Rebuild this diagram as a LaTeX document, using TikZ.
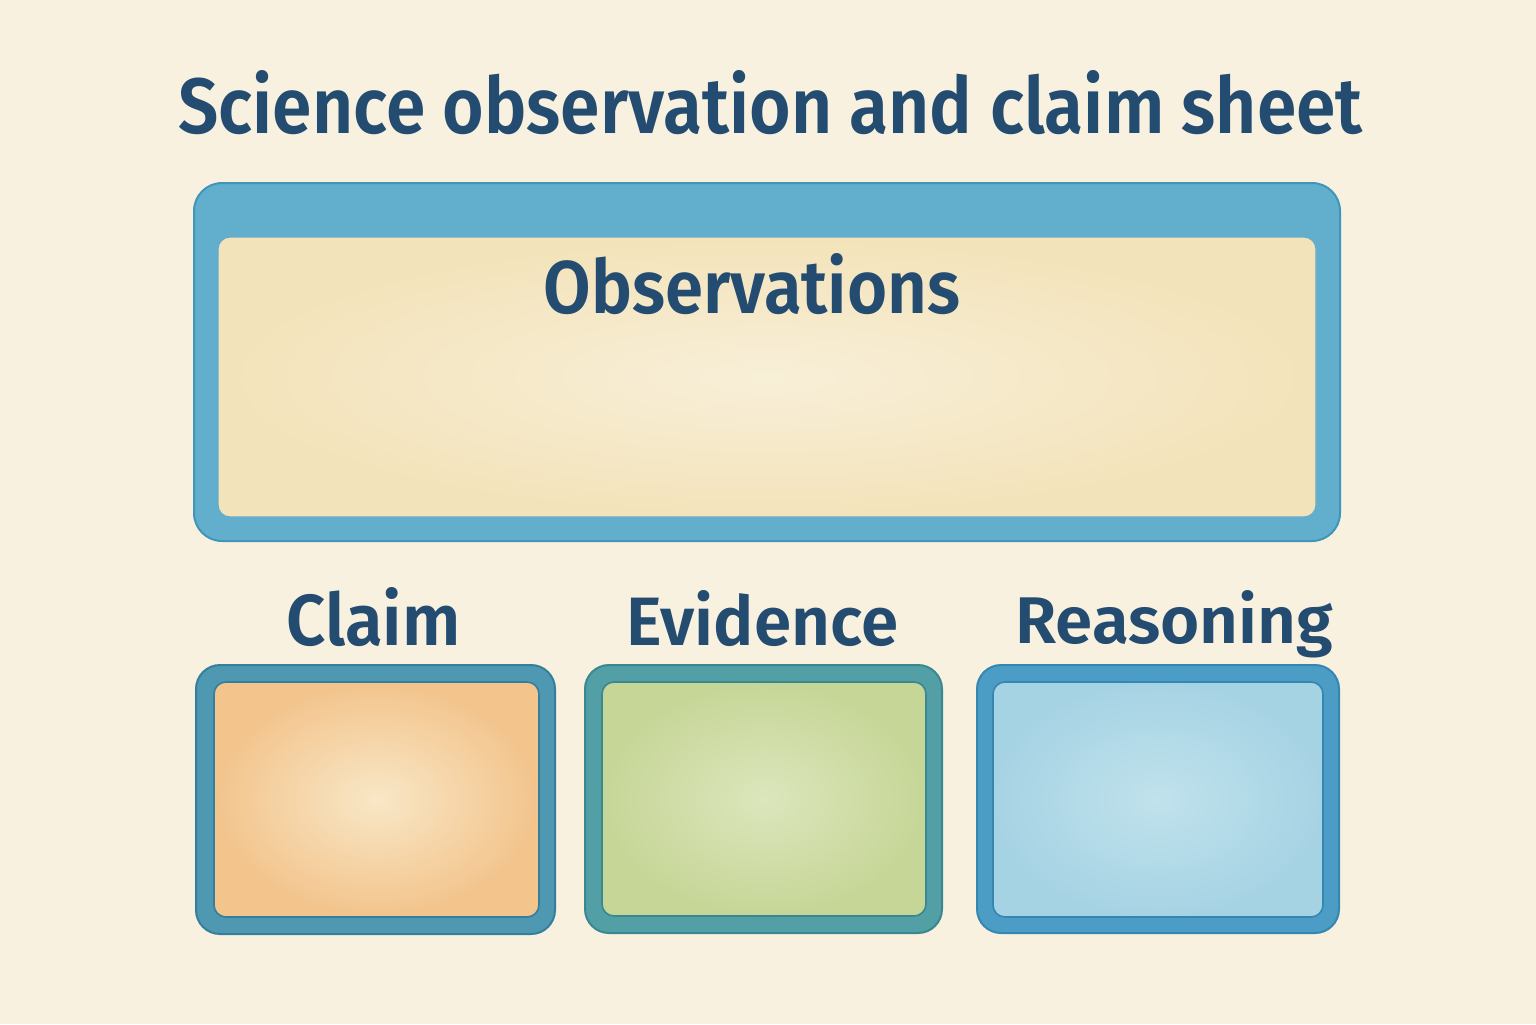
\documentclass[tikz,border=0pt]{standalone}
\usepackage{fontspec}
\setmainfont{Fira Sans}
\newfontfamily\lblfont{Fira Sans SemiBold}
\usepackage{graphicx}
\definecolor{paper}{HTML}{F8F1E0}
\definecolor{ink}{HTML}{234C70}
\definecolor{bigborder}{HTML}{62AFCD}
\definecolor{bigedge}{HTML}{4096BA}
\definecolor{bigout}{HTML}{F3E3BA}
\definecolor{bigin}{HTML}{F8EFD8}
\definecolor{claimborder}{HTML}{4E98B2}
\definecolor{claimedge}{HTML}{367F9C}
\definecolor{claimout}{HTML}{F3C48C}
\definecolor{claimin}{HTML}{F8E7C6}
\definecolor{evborder}{HTML}{52A0A6}
\definecolor{evedge}{HTML}{3A8790}
\definecolor{evout}{HTML}{C6D697}
\definecolor{evin}{HTML}{DCE6BC}
\definecolor{reborder}{HTML}{4C9DC5}
\definecolor{reedge}{HTML}{3586B0}
\definecolor{reout}{HTML}{A6D3E4}
\definecolor{rein}{HTML}{C0E2EC}
\tikzset{
  lbl/.style={inner sep=0pt, anchor=base west, text=ink, font=\lblfont},
}
\begin{document}
\begin{tikzpicture}[x=0.5pt,y=-0.5pt]
\fill[paper] (0,0) rectangle (1536,1024);
\useasboundingbox (0,0) rectangle (1536,1024);

% title
\node[lbl] (title) at (178,133) {\resizebox{592pt}{31.5pt}{Science observation and claim sheet}};

% observations box
\fill[bigborder, draw=bigedge, line width=1pt, rounded corners=14pt] (194,183) rectangle (1340,541);
\shade[inner color=bigin, outer color=bigout, draw=bigedge!80!white, line width=0.6pt, rounded corners=6pt] (218,237) rectangle (1316,517);
\node[lbl] (obs) at (543,313) {\resizebox{208.5pt}{30pt}{Observations}};

% claim
\node[lbl] (claim) at (286,645) {\resizebox{87pt}{29pt}{Claim}};
\fill[claimborder, draw=claimedge, line width=1pt, rounded corners=12pt] (196,665) rectangle (555,934);
\shade[inner color=claimin, outer color=claimout, draw=claimedge, line width=0.8pt, rounded corners=6pt] (214,682) rectangle (539,917);

% evidence
\node[lbl] (evidence) at (626,645) {\resizebox{136pt}{27.5pt}{Evidence}};
\fill[evborder, draw=evedge, line width=1pt, rounded corners=12pt] (585,665) rectangle (942,933);
\shade[inner color=evin, outer color=evout, draw=evedge, line width=0.8pt, rounded corners=6pt] (602,682) rectangle (926,916);

% reasoning
\node[lbl] (reasoning) at (1015,643) {\resizebox{159pt}{26.5pt}{Reasoning}};
\fill[reborder, draw=reedge, line width=1pt, rounded corners=12pt] (977,665) rectangle (1339,933);
\shade[inner color=rein, outer color=reout, draw=reedge, line width=0.8pt, rounded corners=6pt] (993,682) rectangle (1323,917);
\end{tikzpicture}
\end{document}
